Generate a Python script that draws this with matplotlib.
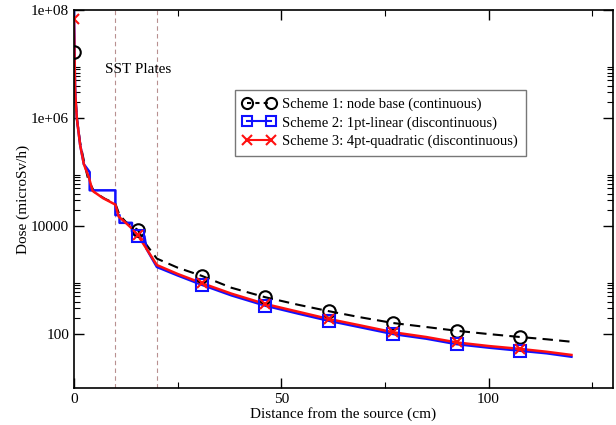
import numpy as np
import matplotlib.pyplot as plt
from matplotlib.ticker import LogLocator, FuncFormatter, FixedLocator, NullFormatter

plt.rcParams['font.family'] = ['Liberation Serif', 'DejaVu Serif']

# Scheme 1: node base (continuous)
x1 = [0, 0.3, 0.7, 1.5, 2.5, 3.5, 5, 7.5, 10, 11, 12.5, 15.4, 17.5, 20, 25,
      30.8, 38, 46.2, 54, 61.5, 69, 77, 85, 92.3, 100, 107.7, 114, 120]
y1 = [1.7e7, 3e6, 1e6, 3.5e5, 1.5e5, 7e4, 4.2e4, 3.2e4, 2.6e4, 1.6e4, 1.2e4, 8500, 4500, 2500, 1700,
      1200, 720, 480, 350, 265, 205, 160, 135, 115, 100, 88, 80, 72]
m1 = [0, 15.4, 30.8, 46.2, 61.5, 77, 92.3, 107.7]
my1 = [1.7e7, 8500, 1200, 480, 265, 160, 115, 88]

# Scheme 2: 1pt-linear (discontinuous)
x2 = [0, 0.3, 0.7, 1.5, 2.4, 3.8, 3.8, 10, 10, 11, 11, 14, 14, 15.4, 17, 17.5, 20, 25,
      30.8, 38, 46.2, 54, 61.5, 69, 77, 85, 92.3, 100, 107.7, 114, 120]
y2 = [1.2e8, 3e6, 1e6, 3.2e5, 1.4e5, 1e5, 4.6e4, 4.6e4, 1.6e4, 1.6e4, 1.15e4, 1.15e4, 8000, 6500, 6500, 3800, 1750, 1220,
      820, 520, 335, 240, 176, 134, 100, 82, 65, 56, 49, 44, 38]
m2 = [15.4, 30.8, 46.2, 61.5, 77, 92.3, 107.7]
my2 = [6500, 820, 335, 176, 100, 65, 49]

# Scheme 3: 4pt-quadratic (discontinuous)
x3 = [0, 0.3, 0.7, 1.5, 2.4, 3.6, 4.5, 7, 10, 10.8, 12.5, 14, 15.4, 17.5, 20, 25,
      30.8, 38, 46.2, 54, 61.5, 69, 77, 85, 92.3, 100, 107.7, 114, 120]
y3 = [7e7, 3e6, 1e6, 3.2e5, 1.4e5, 8e4, 4.5e4, 3.3e4, 2.5e4, 1.5e4, 1.15e4, 9000, 6800, 3800, 1900, 1300,
      880, 560, 360, 260, 190, 145, 108, 88, 70, 60, 53, 47, 41]
m3 = [0, 15.4, 30.8, 46.2, 61.5, 77, 92.3, 107.7]
my3 = [7e7, 6800, 880, 360, 190, 108, 70, 53]

plates = [10, 20]
yticks = [100, 1e4, 1e6, 1e8]

fig = plt.figure(figsize=(6.16, 4.25), dpi=100)
ax = fig.add_axes([0.120, 0.087, 0.875, 0.889])

for p in plates:
    ax.axvline(p, color='#b89090', lw=0.8, ls=(0, (4, 3)))

ax.plot(x1, y1, color='black', lw=1.5, ls=(0, (5, 3)))
ax.plot(x2, y2, color='#1010ff', lw=1.8)
ax.plot(x3, y3, color='#ff1010', lw=1.8)
ax.plot(m1, my1, ls='none', marker='o', ms=9, mfc='none', mec='black', mew=1.5)
ax.plot(m2, my2, ls='none', marker='s', ms=8, mfc='none', mec='#1010ff', mew=1.5)
ax.plot(m3, my3, ls='none', marker='x', ms=7, mec='#ff1010', mew=1.5)

# legend handles
h1, = ax.plot([], [], color='black', lw=1.5, ls=(0, (2, 2)), marker='o', ms=8, mfc='none', mew=1.5)
h2, = ax.plot([], [], color='#1010ff', lw=1.5, marker='s', ms=7, mfc='none', mew=1.5)
h3, = ax.plot([], [], color='#ff1010', lw=1.5, marker='x', ms=7, mew=1.5)
leg = ax.legend([h1, h2, h3],
                ['Scheme 1: node base (continuous)',
                 'Scheme 2: 1pt-linear (discontinuous)',
                 'Scheme 3: 4pt-quadratic (discontinuous)'],
                loc='upper left', bbox_to_anchor=(0.299, 0.79), numpoints=2,
                fontsize=10.5, fancybox=False, framealpha=1, edgecolor='#777777',
                handlelength=2.2, handletextpad=0.5, borderpad=0.55, labelspacing=0.35,
                borderaxespad=0)
leg.get_frame().set_linewidth(1.0)

ax.text(7.5, 7e6, 'SST Plates', fontsize=11)

ax.set_yscale('log')
ax.set_xlim(0, 130)
ax.set_ylim(10, 1e8)
ax.xaxis.set_major_locator(FixedLocator([0, 50, 100]))
ax.xaxis.set_minor_locator(FixedLocator([25, 75, 125]))
ax.yaxis.set_major_locator(FixedLocator(yticks))
ax.yaxis.set_minor_locator(LogLocator(base=100, subs=np.arange(2, 10), numticks=20))
ax.yaxis.set_minor_formatter(NullFormatter())


def fmt(v, pos):
    if v < 1e5:
        return '%d' % v
    return '1e+%02d' % int(round(np.log10(v)))


ax.yaxis.set_major_formatter(FuncFormatter(fmt))
ax.tick_params(which='both', direction='in', top=True, right=True, labelsize=11)
ax.tick_params(which='major', length=7, width=1)
ax.tick_params(which='minor', length=4, width=0.8)
for s in ax.spines.values():
    s.set_linewidth(1.2)

ax.set_xlabel('Distance from the source (cm)', fontsize=11, labelpad=1)
ax.set_ylabel('Dose (microSv/h)', fontsize=11, labelpad=1)

fig.savefig('out.png', dpi=100)
